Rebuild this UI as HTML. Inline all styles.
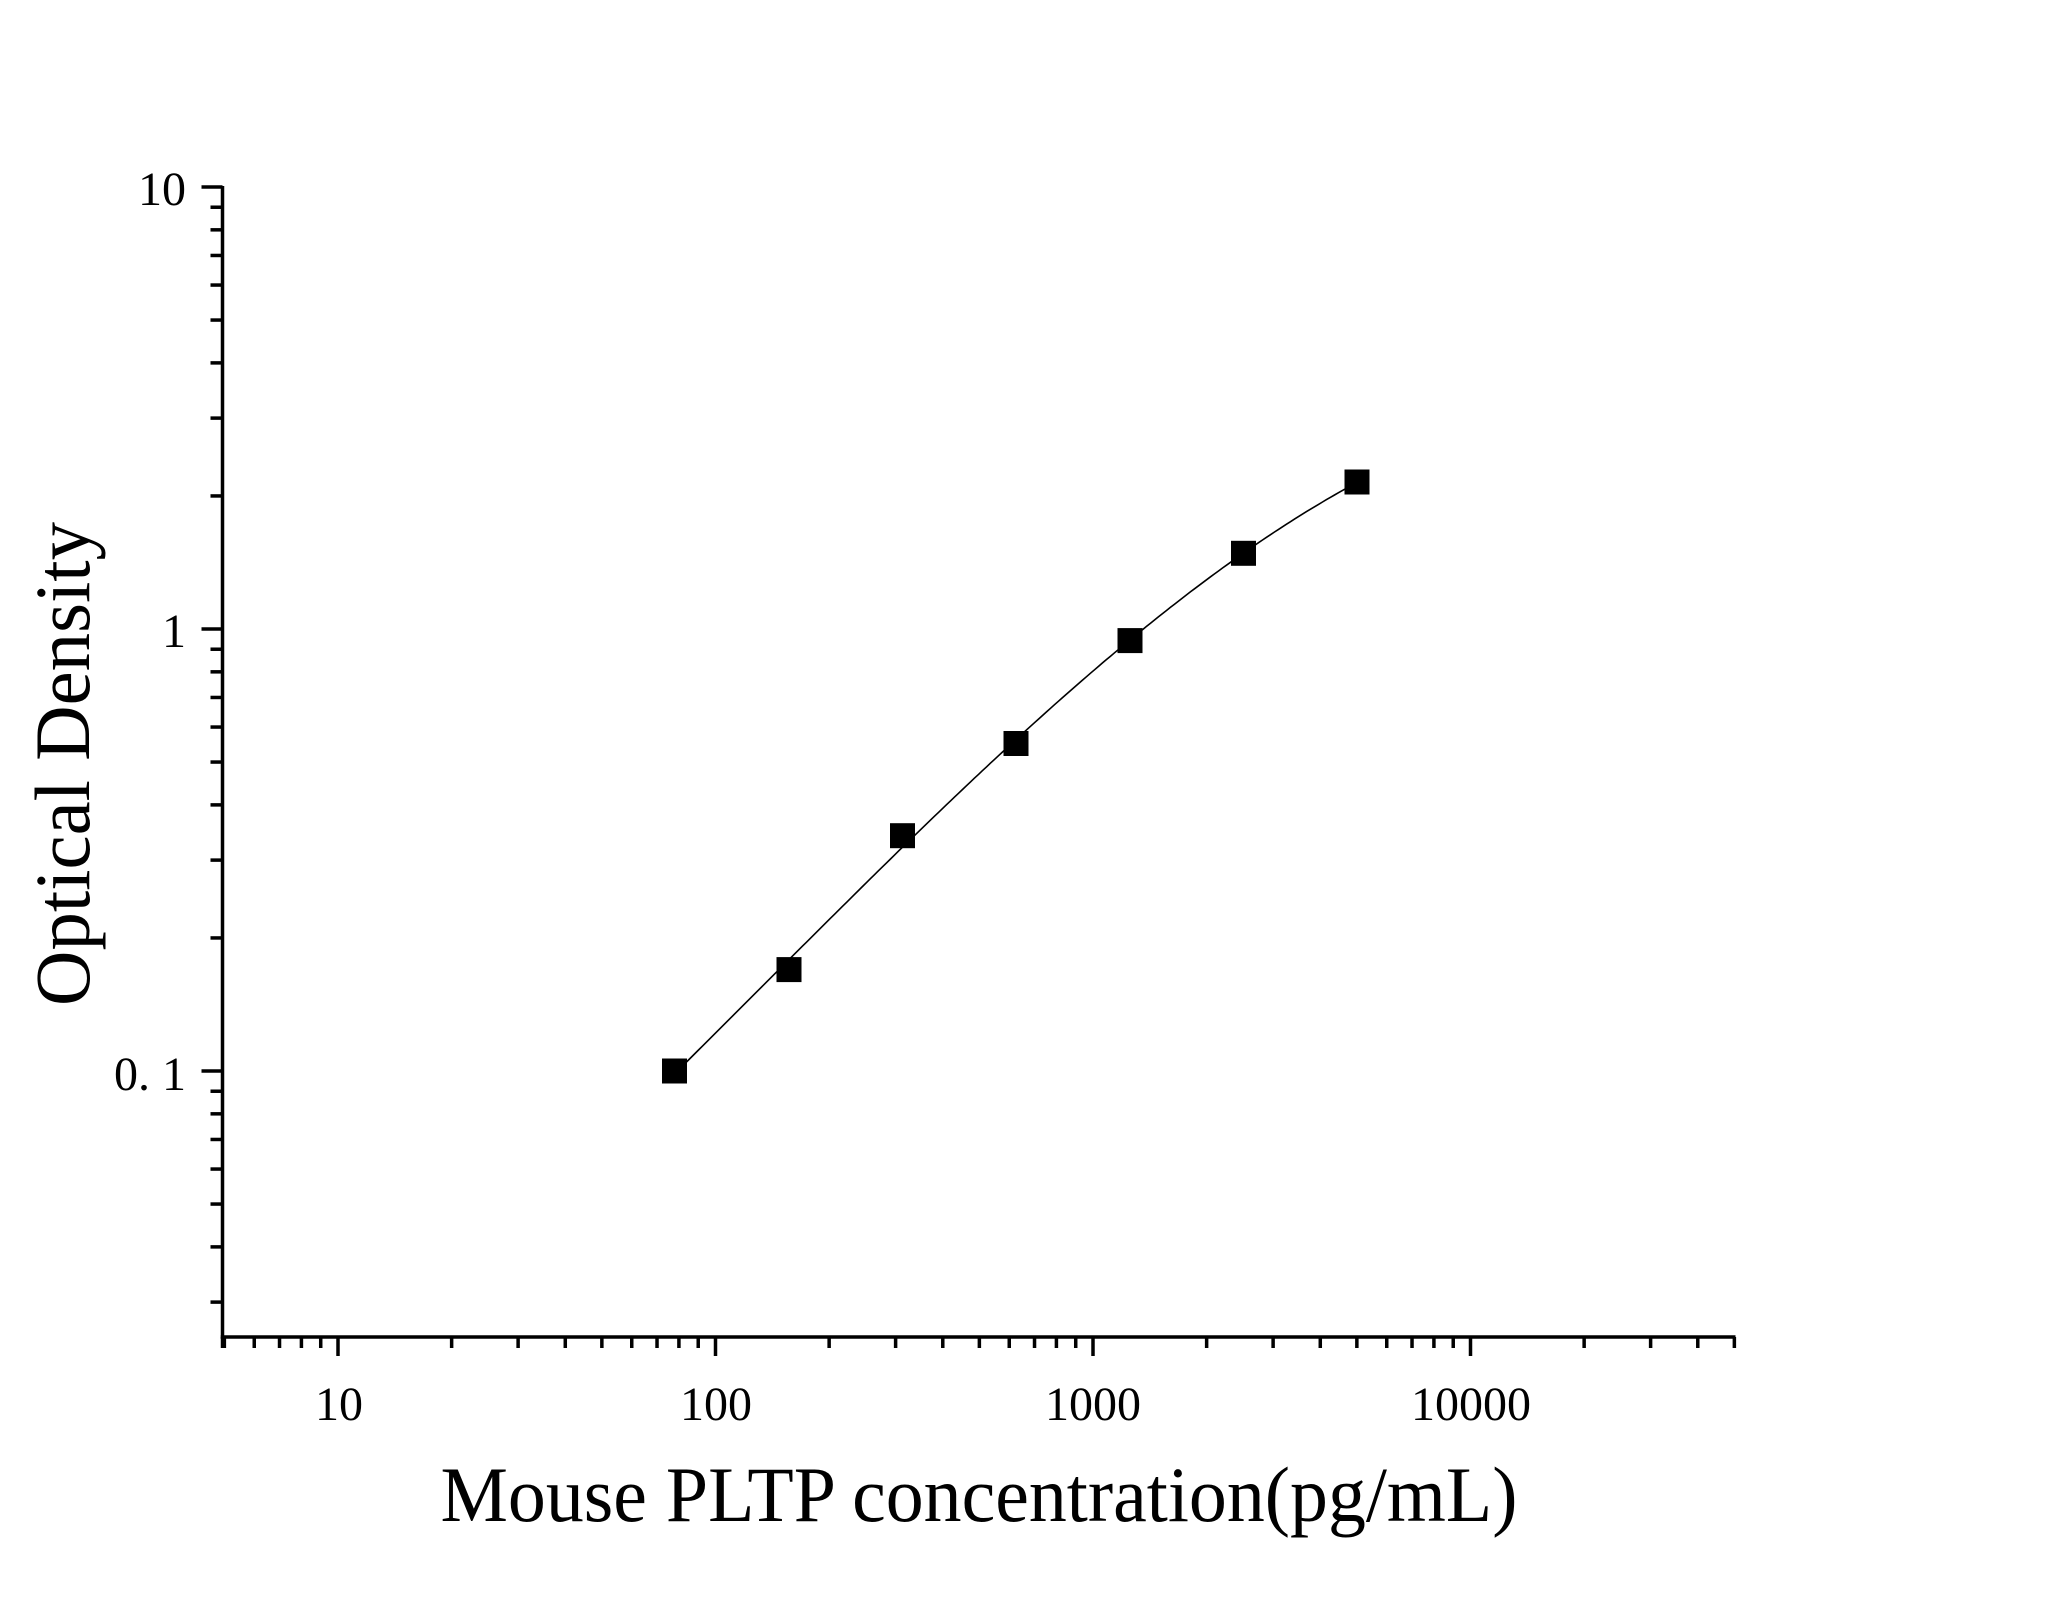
<!DOCTYPE html>
<html><head><meta charset="utf-8"><style>
html,body{margin:0;padding:0;background:#fff;}
svg{display:block;}
text{font-family:"Liberation Serif",serif;fill:#000;}
</style></head><body>
<svg id="s" width="2048" height="1605" viewBox="0 0 2048 1605" xmlns="http://www.w3.org/2000/svg">
<rect width="2048" height="1605" fill="#fff"/>
<g id="ax" stroke="#000" stroke-width="3.5" fill="none"></g>
<path id="curve" stroke="#000" stroke-width="1.6" fill="none"/>
<g id="pts" fill="#000"></g>
<text x="186" y="205" font-size="48" text-anchor="end">10</text>
<text x="186" y="647" font-size="48" text-anchor="end">1</text>
<text x="186" y="1090" font-size="48" text-anchor="end" xml:space="preserve">0. 1</text>
<text x="339" y="1420" font-size="48" text-anchor="middle">10</text>
<text x="716" y="1420" font-size="48" text-anchor="middle">100</text>
<text x="1093" y="1420" font-size="48" text-anchor="middle">1000</text>
<text x="1471" y="1420" font-size="48" text-anchor="middle">10000</text>
<text x="979" y="1521" font-size="78" text-anchor="middle" textLength="1077" lengthAdjust="spacingAndGlyphs">Mouse PLTP concentration(pg/mL)</text>
<text transform="translate(89,764) rotate(-90)" font-size="78" text-anchor="middle" textLength="484" lengthAdjust="spacingAndGlyphs">Optical Density</text>
</svg>
<script>
var NS="http://www.w3.org/2000/svg";
function X(v){return 338+377.5*(Math.log10(v)-1);}
function Y(v){return 1071-442*(Math.log10(v)+1);}
var ax=document.getElementById('ax');
function L(x1,y1,x2,y2){var l=document.createElementNS(NS,'line');l.setAttribute('x1',x1);l.setAttribute('y1',y1);l.setAttribute('x2',x2);l.setAttribute('y2',y2);ax.appendChild(l);}
var AX=222.5, AY=1337, XR=1734;
L(AX,186,AX,AY+1.75);
L(AX-1.75,AY,XR+1.5,AY);
[0.01,0.1,1].forEach(function(d){for(var k=1;k<10;k++){var v=d*k;if(v<0.025||v>10.0001)continue;var y=Y(v);if(k==1){L(AX-21,y,AX,y);}else{L(AX-12,y,AX,y);}}});
L(AX-21,Y(10),AX,Y(10));
[1,10,100,1000,10000].forEach(function(d){for(var k=1;k<10;k++){var v=d*k;if(v<5||v>50001)continue;var x=X(v);if(k==1){L(x,AY,x,AY+19);}else{L(x,AY,x,AY+11);}}});
L(AX,AY,AX,AY+11);
var P=[[674.5,1071],[789,969.6],[902.5,835.7],[1016,743.5],[1130,640.6],[1243.5,553.3],[1357,482]];
var g=document.getElementById('pts');
P.forEach(function(p){var r=document.createElementNS(NS,'rect');r.setAttribute('x',p[0]-12.5);r.setAttribute('y',p[1]-12.5);r.setAttribute('width',25);r.setAttribute('height',25);g.appendChild(r);});
// cubic least squares fit
var n=4,A=[],B=[];for(var i=0;i<n;i++){A.push([0,0,0,0]);B.push(0);}
P.forEach(function(p){var t=(p[0]-1016)/341;for(var i=0;i<n;i++){B[i]+=Math.pow(t,i)*p[1];for(var j=0;j<n;j++)A[i][j]+=Math.pow(t,i+j);}});
for(var i=0;i<n;i++){for(var k=i+1;k<n;k++){var f=A[k][i]/A[i][i];for(var j=i;j<n;j++)A[k][j]-=f*A[i][j];B[k]-=f*B[i];}}
var c=[0,0,0,0];for(var i=n-1;i>=0;i--){var s=B[i];for(var j=i+1;j<n;j++)s-=A[i][j]*c[j];c[i]=s/A[i][i];}
var d='';for(var x=674.5;x<=1357.01;x+=4){var t=(x-1016)/341;var y=c[0]+c[1]*t+c[2]*t*t+c[3]*t*t*t;d+=(d?' L':'M')+x.toFixed(1)+','+y.toFixed(1);}
document.getElementById('curve').setAttribute('d',d);
</script>
</body></html>
